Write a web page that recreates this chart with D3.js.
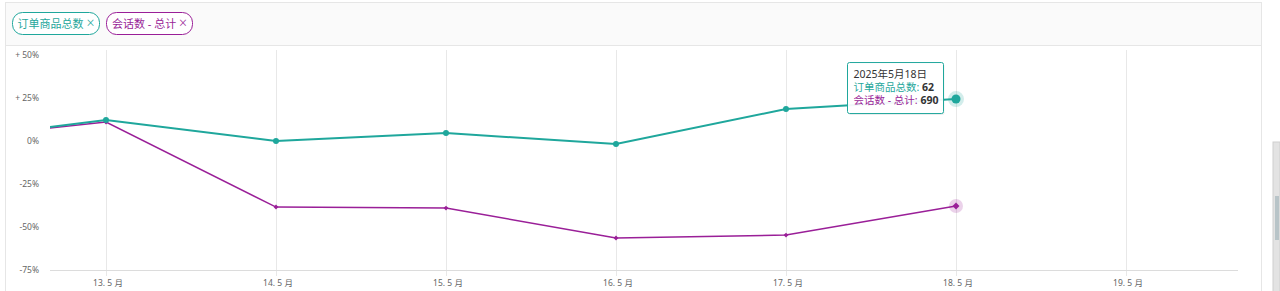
<!DOCTYPE html>
<html>
<head>
<meta charset="utf-8">
<script src="https://cdn.jsdelivr.net/npm/d3@7"></script>
<style>
  body { margin: 0; background: #fff; font-family: "Noto Sans", "Noto Sans CJK SC", sans-serif; }
  svg { display: block; }
</style>
</head>
<body>
<div id="chart"></div>
<script>
// days of May 2025
const days = [12, 13, 14, 15, 16, 17, 18];
const orderItems = [0, 12.2, 0, 4.6, -1.7, 18.6, 24.4];      // 订单商品总数, % change
const sessions = [0.5, 11, -38.4, -39, -56.4, -54.7, -37.8];   // 会话数 - 总计, % change
const yTicks = [50, 25, 0, -25, -50, -75];
const xTickDays = [13, 14, 15, 16, 17, 18, 19];
const seriesNames = ["订单商品总数", "会话数 - 总计"];
const tooltipValues = [62, 690];
const tooltipDate = "2025年5月18日";

const teal = "#1fa79c", purple = "#9a1f98";
const width = 1280, height = 291;
const plot = {left: 50, right: 1238, top: 50, bottom: 270};

const svg = d3.select("#chart").append("svg")
    .attr("width", width)
    .attr("height", height);

// panel frame + header strip
svg.append("rect").attr("x", 5.5).attr("y", 2.5).attr("width", 1256).attr("height", 300)
    .attr("fill", "#fff").attr("stroke", "#e6e6e6");
svg.append("rect").attr("x", 5.5).attr("y", 2.5).attr("width", 1256).attr("height", 43)
    .attr("fill", "#fafafa").attr("stroke", "#e6e6e6");

// legend tags
const tags = [{name: seriesNames[0], color: teal, x: 12.5, w: 87}, {name: seriesNames[1], color: purple, x: 106.5, w: 86}];
tags.forEach(t => {
    svg.append("rect").attr("x", t.x).attr("y", 12.5).attr("width", t.w).attr("height", 22)
        .attr("rx", 10).attr("fill", "#fff").attr("stroke", t.color);
    const txt = svg.append("text").attr("x", t.x + t.w / 2).attr("y", 27.5)
        .attr("text-anchor", "middle").attr("font-size", 11).attr("fill", t.color)
        .attr("xml:space", "preserve");
    txt.append("tspan").text(t.name + " ");
    txt.append("tspan").attr("font-size", 14).attr("font-weight", 300).text("×");
});

const x = d3.scaleLinear().domain([13, 19]).range([106, 1126]);
const y = d3.scaleLinear().domain([-75, 50]).range([plot.bottom, 55]);

// vertical grid
svg.append("g").selectAll("line").data(xTickDays).join("line")
    .attr("x1", d => Math.round(x(d)) + 0.5).attr("x2", d => Math.round(x(d)) + 0.5)
    .attr("y1", plot.top).attr("y2", plot.bottom + 6)
    .attr("stroke", "#e8e8e8");

// baseline
svg.append("line").attr("x1", plot.left).attr("x2", plot.right)
    .attr("y1", plot.bottom + 0.5).attr("y2", plot.bottom + 0.5).attr("stroke", "#dcdcdc");

// y labels
svg.append("g").selectAll("text").data(yTicks).join("text")
    .attr("x", 39).attr("y", d => y(d) + 3)
    .attr("text-anchor", "end").attr("font-size", 8.5).attr("fill", "#666")
    .text(d => d > 0 ? "+ " + d + "%" : d + "%");

// x labels
svg.append("g").selectAll("text").data(xTickDays).join("text")
    .attr("x", d => x(d) + 2).attr("y", 286)
    .attr("text-anchor", "middle").attr("font-size", 8.5).attr("fill", "#666")
    .text(d => d + ". 5 月");

svg.append("clipPath").attr("id", "clip").append("rect")
    .attr("x", plot.left).attr("y", 0).attr("width", plot.right - plot.left).attr("height", height);

const line = d3.line().x(d => x(d[0])).y(d => y(d[1]));
const tealData = days.map((d, i) => [d, orderItems[i]]);
const purpData = days.map((d, i) => [d, sessions[i]]);

const g = svg.append("g").attr("clip-path", "url(#clip)");
g.append("path").datum(purpData).attr("d", line).attr("fill", "none")
    .attr("stroke", purple).attr("stroke-width", 1.5);
g.append("path").datum(tealData).attr("d", line).attr("fill", "none")
    .attr("stroke", teal).attr("stroke-width", 2);

// markers (skip the clipped first point)
const last = days.length - 1;
g.append("circle").attr("cx", x(days[last])).attr("cy", y(sessions[last])).attr("r", 7)
    .attr("fill", purple).attr("opacity", 0.2);
g.append("circle").attr("cx", x(days[last])).attr("cy", y(orderItems[last])).attr("r", 8)
    .attr("fill", teal).attr("opacity", 0.2);

g.selectAll(".pd").data(purpData.slice(1)).join("path").attr("class", "pd")
    .attr("transform", d => `translate(${x(d[0])},${y(d[1])}) rotate(45)`)
    .attr("d", (d, i) => d3.symbol(d3.symbolSquare, i === last - 1 ? 24 : 12)())
    .attr("fill", purple);
g.selectAll(".td").data(tealData.slice(1)).join("circle").attr("class", "td")
    .attr("cx", d => x(d[0])).attr("cy", d => y(d[1]))
    .attr("r", (d, i) => i === last - 1 ? 4.5 : 3).attr("fill", teal);

// tooltip
const tx = x(days[last]) - 108.5, ty = y(orderItems[last]) - 36.5;
svg.append("rect").attr("x", tx + 1).attr("y", ty + 1.5).attr("width", 96).attr("height", 51)
    .attr("rx", 2).attr("fill", "#000").attr("opacity", 0.06);
svg.append("rect").attr("x", tx).attr("y", ty).attr("width", 96).attr("height", 51)
    .attr("rx", 2).attr("fill", "#fff").attr("fill-opacity", 0.94).attr("stroke", teal);
const tt = svg.append("g").attr("font-size", 10.5);
tt.append("text").attr("x", tx + 6).attr("y", ty + 15).attr("fill", "#333").text(tooltipDate);
[0, 1].forEach(i => {
    const t = tt.append("text").attr("x", tx + 6).attr("y", ty + 28 + i * 13);
    t.append("tspan").attr("fill", i === 0 ? teal : purple).text(seriesNames[i] + ": ");
    t.append("tspan").attr("fill", "#333").attr("font-weight", "bold").text(tooltipValues[i]);
});

// scrollbar hint on the right edge
svg.append("rect").attr("x", 1273).attr("y", 142).attr("width", 7).attr("height", 150)
    .attr("fill", "#e3e3e3").attr("stroke", "#cfcfcf");
svg.append("rect").attr("x", 1275).attr("y", 196).attr("width", 4).attr("height", 44)
    .attr("fill", "#b8c4c8");
</script>
</body>
</html>
